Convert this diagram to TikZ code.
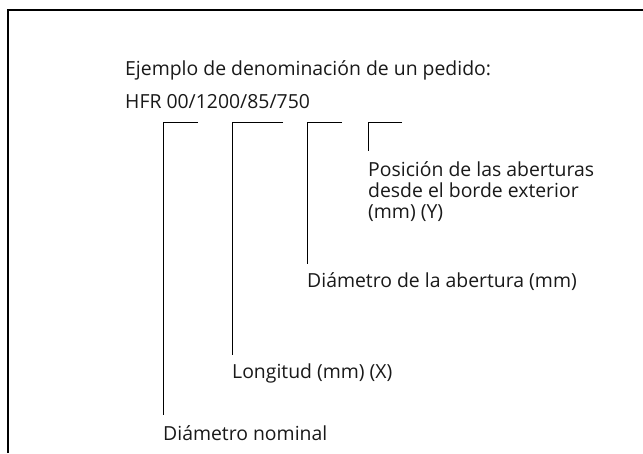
\documentclass[tikz,border=0pt]{standalone}
\usepackage{fontspec}
\setmainfont{Open Sans}
\begin{document}
\begin{tikzpicture}[x=1pt,y=-1pt,
  lbl/.style={anchor=base west,inner sep=0pt,font=\fontsize{19.4}{21}\selectfont,align=left,text=black!90},
  lead/.style={line width=0.9pt,black},
  frame/.style={line width=1.3pt,black}]
\useasboundingbox (0,0) rectangle (643,453);
\draw[frame] (8,453) -- (8,10) -- (643,10);
\node[lbl] (title) at (125,75) {Ejemplo de denominación de un pedido:};
\node[lbl] (code) at (125,108) {HFR 00/1200/85/750};
% labels
\node[lbl] (l4) at (368,218) {Posición de las aberturas\\desde el borde exterior\\(mm) (Y)};
\node[lbl] (l3) at (307,287) {Diámetro de la abertura (mm)};
\node[lbl] (l2) at (232,378) {Longitud (mm) (X)};
\node[lbl] (l1) at (163,440) {Diámetro nominal};
% bracket coordinates
\coordinate (a1) at (198,122); \coordinate (c1) at (163,122); \coordinate (e1) at (163,415);
\coordinate (a2) at (283,122); \coordinate (c2) at (232,122); \coordinate (e2) at (232,355);
\coordinate (a3) at (342,122); \coordinate (c3) at (307,122); \coordinate (e3) at (307,264);
\coordinate (a4) at (402,122); \coordinate (c4) at (368,122); \coordinate (e4) at (368,151);
\draw[lead] (a1) -- (c1) -- (e1);
\draw[lead] (a2) -- (c2) -- (e2);
\draw[lead] (a3) -- (c3) -- (e3);
\draw[lead] (a4) -- (c4) -- (e4);
\end{tikzpicture}
\end{document}
